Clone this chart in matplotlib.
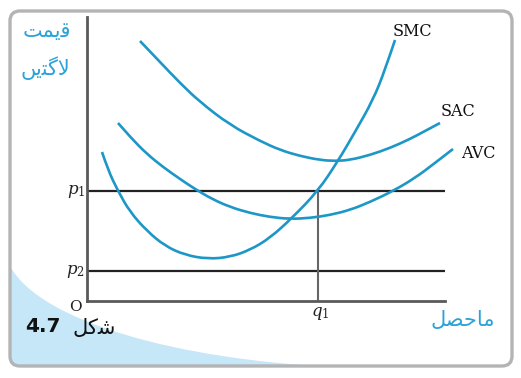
import matplotlib
matplotlib.use("Agg")
import matplotlib.pyplot as plt
from matplotlib.patches import FancyBboxPatch, PathPatch
from matplotlib.path import Path

# ---- data (abstract units: output on x, cost on y) ----
smc_x = [1.5, 2.1, 3.1, 4.3, 6.0, 7.8, 9.8, 12.1, 14.3, 16.3, 18.3, 20.5, 23.1, 25.1, 26.8, 28.6, 29.8, 30.8]
smc_y = [14.9, 13.1, 11.0, 8.9, 7.0, 5.5, 4.6, 4.2, 4.4, 5.1, 6.3, 8.3, 11.0, 14.0, 16.9, 20.1, 23.1, 26.1]

sac_x = [5.3, 7.3, 9.3, 11.3, 14.3, 17.3, 19.3, 21.3, 23.3, 24.8, 26.3, 28.3, 30.3, 32.3, 33.8, 35.3]
sac_y = [26.0, 23.9, 21.8, 19.9, 17.6, 16.0, 15.1, 14.5, 14.1, 14.0, 14.1, 14.6, 15.3, 16.2, 17.0, 17.8]

avc_x = [3.1, 4.5, 6.0, 7.6, 9.3, 10.8, 12.5, 14.3, 16.3, 18.3, 20.3, 22.3, 24.3, 26.3, 28.3, 30.6, 32.8, 34.8, 36.6]
avc_y = [17.8, 16.2, 14.7, 13.4, 12.2, 11.2, 10.2, 9.4, 8.8, 8.4, 8.2, 8.3, 8.6, 9.1, 9.9, 11.0, 12.3, 13.8, 15.2]

p1 = 11.0
p2 = 3.0
q1 = 23.1

curve_names = ["SMC", "SAC", "AVC"]
price_labels = ["$p_1$", "$p_2$"]
q_label = "$q_1$"
origin_label = "O"
# Urdu labels (Arabic presentation forms, visual order)
y_title_1 = "\uFE96\uFEE4\uFBFE\uFED7"            # قیمت
y_title_2 = "\uFB9F\uFBFE\uFE98\uFB94\uFEFB"      # لاگتیں
x_title = "\uFEDE\uFEBC\uFEA3\uFE8E\uFEE3"        # ماحصل
fig_word = "\uFEDE\uFB90\uFEB7"                   # شکل
fig_num = "4.7"

W, H = 521, 378
fig = plt.figure(figsize=(W / 100, H / 100), dpi=100)
fig.patch.set_facecolor("white")
plt.rcParams["mathtext.fontset"] = "dejavuserif"

# ---- decorative background panel ----
bg = fig.add_axes([0, 0, 1, 1], zorder=0)
bg.set_xlim(0, W)
bg.set_ylim(H, 0)
bg.axis("off")
panel = FancyBboxPatch((10, 11), 502, 355, boxstyle="round,pad=0,rounding_size=10",
                       facecolor="white", edgecolor="none", zorder=1)
bg.add_patch(panel)
swoosh = Path([(10, 266), (40, 322), (180, 360), (335, 367), (10, 367), (10, 266)],
              [Path.MOVETO, Path.CURVE4, Path.CURVE4, Path.CURVE4, Path.LINETO, Path.CLOSEPOLY])
sp = PathPatch(swoosh, facecolor="#c6e7f7", edgecolor="none", zorder=2)
bg.add_patch(sp)
sp.set_clip_path(panel)
border = FancyBboxPatch((10, 11), 502, 355, boxstyle="round,pad=0,rounding_size=10",
                        facecolor="none", edgecolor="#b4b4b4", linewidth=2.4, zorder=3)
bg.add_patch(border)

# ---- main chart ----
ax = fig.add_axes([87 / W, 1 - 301 / H, (445 - 87) / W, (301 - 17) / H], zorder=2)
ax.patch.set_alpha(0)
ax.set_xlim(0, 35.8)
ax.set_ylim(0, 28.4)
for s in ["top", "right"]:
    ax.spines[s].set_visible(False)
for s in ["left", "bottom"]:
    ax.spines[s].set_color("#5a5a5a")
    ax.spines[s].set_linewidth(2.0)
ax.set_xticks([])
ax.set_yticks([])

curve_color = "#1c97c7"


def smooth_curve(xs, ys):
    """Quadratic Bezier path through the midpoints of the read points."""
    pts = list(zip(xs, ys))
    verts = [pts[0]]
    codes = [Path.MOVETO]
    for i in range(1, len(pts) - 1):
        mid = ((pts[i][0] + pts[i + 1][0]) / 2, (pts[i][1] + pts[i + 1][1]) / 2)
        if i == len(pts) - 2:
            mid = pts[-1]
        verts += [pts[i], mid]
        codes += [Path.CURVE3, Path.CURVE3]
    patch = PathPatch(Path(verts, codes), facecolor="none", edgecolor=curve_color,
                      lw=1.9, transform=ax.transData, clip_on=False, capstyle="butt", zorder=3)
    ax.add_patch(patch)


smooth_curve(smc_x, smc_y)
smooth_curve(sac_x, sac_y)
smooth_curve(avc_x, avc_y)

ax.hlines([p1, p2], 0, 35.8, color="#222222", lw=1.6, zorder=1)
ax.vlines(q1, 0, p1, color="#666666", lw=1.5, zorder=1)

serif = "DejaVu Serif"
ax.text(smc_x[-1] + 1.7, smc_y[-1] + 0.8, curve_names[0], fontsize=11.5, family=serif,
        ha="center", va="center", color="#111111")
ax.text(sac_x[-1] + 1.8, sac_y[-1] + 1.1, curve_names[1], fontsize=11.5, family=serif,
        ha="center", va="center", color="#111111")
ax.text(avc_x[-1] + 2.5, avc_y[-1] - 0.4, curve_names[2], fontsize=11.5, family=serif,
        ha="center", va="center", color="#111111")

ax.text(-0.2, p1, price_labels[0], fontsize=12, ha="right", va="center", color="#222222")
ax.text(-0.2, p2, price_labels[1], fontsize=12, ha="right", va="center", color="#222222")
ax.text(q1 + 0.2, -1.2, q_label, fontsize=12, ha="center", va="center", color="#222222")
ax.text(-1.2, -0.6, origin_label, fontsize=11, family=serif, ha="center", va="center",
        color="#222222")

urdu_color = "#2ba3d8"
fig.text(47 / W, 1 - 31 / H, y_title_1, fontsize=15, family="DejaVu Sans",
         ha="center", va="center", color=urdu_color)
fig.text(45 / W, 1 - 68 / H, y_title_2, fontsize=15, family="DejaVu Sans",
         ha="center", va="center", color=urdu_color)
fig.text(463 / W, 1 - 320 / H, x_title, fontsize=15, family="DejaVu Sans",
         ha="center", va="center", color=urdu_color)
fig.text(94 / W, 1 - 328 / H, fig_word, fontsize=15, family="DejaVu Sans",
         ha="center", va="center", color="#111111")
fig.text(43 / W, 1 - 327 / H, fig_num, fontsize=14.5, family="DejaVu Sans",
         fontweight="bold", ha="center", va="center", color="#111111")

fig.savefig("out.png", dpi=100)
